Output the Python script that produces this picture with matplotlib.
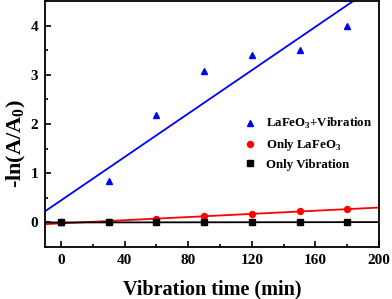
import numpy as np
import matplotlib
matplotlib.use('Agg')
from matplotlib import pyplot as plt
from matplotlib.ticker import MultipleLocator

plt.rcParams['font.family'] = ['Liberation Serif', 'DejaVu Serif']
plt.rcParams['font.weight'] = 'bold'
plt.rcParams['mathtext.fontset'] = 'custom'
plt.rcParams['mathtext.rm'] = 'Liberation Serif:bold'

time_min = np.array([0, 30, 60, 90, 120, 150, 180])
lafeo3_vib = np.array([0.0, 0.85, 2.18, 3.08, 3.40, 3.50, 4.00])
only_lafeo3 = np.array([0.0, 0.01, 0.07, 0.12, 0.17, 0.23, 0.27])
only_vib = np.array([0.0, 0.0, 0.0, 0.0, 0.0, 0.0, 0.01])

labels = ['LaFeO$_3$+Vibration', 'Only LaFeO$_3$', 'Only Vibration']

fig = plt.figure(figsize=(3.92, 2.99), dpi=100)
ax = fig.add_axes([0.115, 0.174, 0.852, 0.823])

xfit = np.linspace(-10, 200, 50)
series = [(lafeo3_vib, 'b', '^'), (only_lafeo3, 'r', 'o'), (only_vib, 'k', 's')]
for (y, c, m), lab in zip(series, labels):
    k, b = np.polyfit(time_min, y, 1)
    ax.plot(xfit, k * xfit + b, color=c, lw=1.3, zorder=2)
    ax.plot(time_min, y, ls='none', marker=m, color=c, ms=4.3, label=lab, zorder=3)

ax.set_xlim(-10, 200)
ax.set_ylim(-0.5, 4.5)
ax.xaxis.set_major_locator(MultipleLocator(40))
ax.xaxis.set_minor_locator(MultipleLocator(20))
ax.yaxis.set_major_locator(MultipleLocator(1))
ax.yaxis.set_minor_locator(MultipleLocator(0.5))
ax.tick_params(which='both', direction='in', top=False, right=False, labelsize=11, width=1.2)
ax.tick_params(which='major', length=4, pad=5)
ax.tick_params(which='minor', length=2.5)
for s in ax.spines.values():
    s.set_linewidth(1.3)

ax.set_xlabel('Vibration time (min)', fontsize=14.5, fontweight='bold', labelpad=9)
ax.set_ylabel('-ln(A/A$_0$)', fontsize=16, fontweight='bold')
ax.yaxis.set_label_coords(-0.05, 0.42)

ax.legend(loc='center left', bbox_to_anchor=(0.56, 0.42), frameon=False,
          fontsize=9.3, handlelength=1.0, handletextpad=0.7, labelspacing=0.45)

fig.savefig('out.png', dpi=100)
